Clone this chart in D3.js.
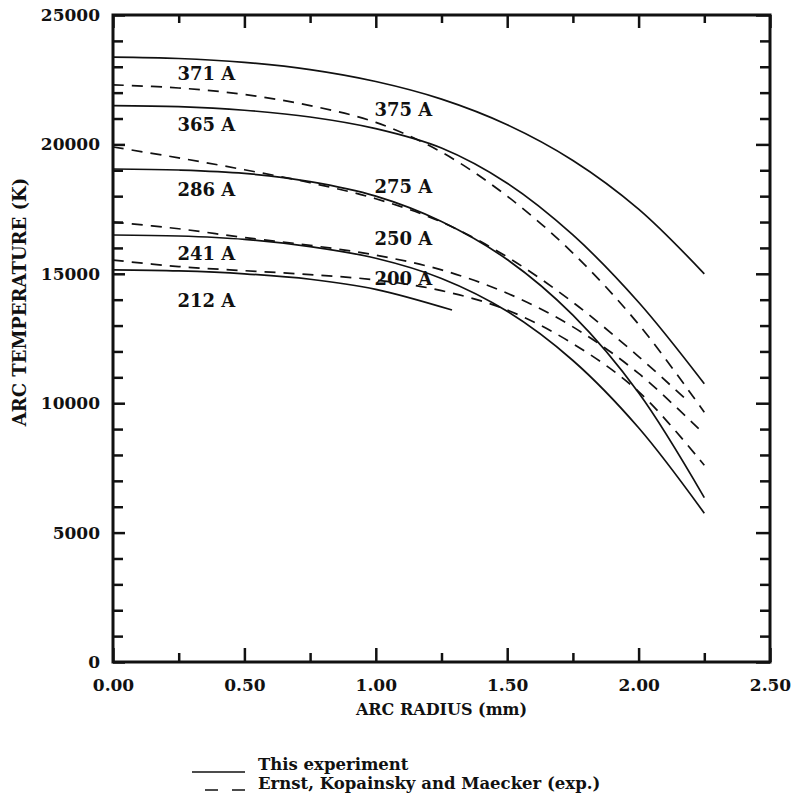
<!DOCTYPE html>
<html>
<head>
<meta charset="utf-8">
<script src="https://cdn.jsdelivr.net/npm/d3@7"></script>
<style>
  body { margin: 0; background: #fff; }
  svg text { font-family: "DejaVu Serif", "Liberation Serif", serif; font-weight: bold; fill: #111; }
</style>
</head>
<body>
<svg id="chart" width="795" height="800"></svg>
<script>
// data: [radius mm, temperature K]
const exp371 = [[0,23370],[0.25,23320],[0.5,23170],[0.75,22890],[1.0,22430],[1.25,21750],[1.5,20760],[1.75,19380],[2.0,17500],[2.25,15000]];
const exp365 = [[0,21500],[0.25,21460],[0.5,21320],[0.75,21060],[1.0,20610],[1.25,19860],[1.5,18500],[1.75,16500],[2.0,13900],[2.25,10750]];
const exp286 = [[0,19050],[0.25,19010],[0.5,18880],[0.75,18560],[1.0,18000],[1.25,17020],[1.5,15550],[1.75,13400],[2.0,10400],[2.25,6350]];
const exp241 = [[0,16500],[0.25,16460],[0.5,16330],[0.75,16050],[1.0,15600],[1.25,14820],[1.5,13550],[1.75,11650],[2.0,9050],[2.25,5750]];
const exp212 = [[0,15150],[0.25,15110],[0.5,15000],[0.75,14790],[1.0,14400],[1.29,13600]];

const ekm375 = [[0,22300],[0.25,22180],[0.5,21930],[0.75,21500],[1.0,20850],[1.25,19700],[1.5,18000],[1.75,15800],[2.0,13050],[2.25,9650]];
const ekm275 = [[0,19900],[0.25,19480],[0.5,19020],[0.75,18520],[1.0,17900],[1.25,17000],[1.5,15650],[1.75,13900],[2.0,11800],[2.18,10150]];
const ekm250 = [[0,17000],[0.25,16740],[0.5,16400],[0.75,16100],[1.0,15720],[1.25,15150],[1.5,14250],[1.75,12950],[2.0,11150],[2.25,8800]];
const ekm200 = [[0,15530],[0.25,15280],[0.5,15120],[0.75,14970],[1.0,14760],[1.25,14350],[1.5,13600],[1.75,12300],[2.0,10450],[2.25,7600]];

const solidSeries = [exp371, exp365, exp286, exp241, exp212];
const dashedSeries = [ekm375, ekm275, ekm250, ekm200];

const leftLabels = ["371 A", "365 A", "286 A", "241 A", "212 A"];
const leftLabelT = [22490, 20520, 18000, 15530, 13720];
const rightLabels = ["375 A", "275 A", "250 A", "200 A"];
const rightLabelT = [21100, 18130, 16130, 14570];

const xTicks = [0, 0.5, 1.0, 1.5, 2.0, 2.5];
const xMinor = [0.25, 0.75, 1.25, 1.75, 2.25];
const yTicks = [0, 5000, 10000, 15000, 20000, 25000];
const yMinor = d3.range(1000, 25000, 1000).filter(v => v % 5000 !== 0);

const legendItems = ["This experiment", "Ernst, Kopainsky and Maecker (exp.)"];

const svg = d3.select("#chart");
const margin = {top: 15, right: 25, bottom: 138, left: 113};
const width = 795 - margin.left - margin.right;
const height = 800 - margin.top - margin.bottom;
const g = svg.append("g").attr("transform", "translate(" + margin.left + "," + margin.top + ")");

const x = d3.scaleLinear().domain([0, 2.5]).range([0, width]);
const y = d3.scaleLinear().domain([0, 25000]).range([height, 0]);

function styleAxis(sel) {
  sel.select(".domain").remove();
  sel.selectAll(".tick line").attr("stroke", "#111").attr("stroke-width", 2.5);
  sel.selectAll(".tick text").style("font-size", "17px").attr("fill", "#111");
}

// bottom
g.append("g").attr("transform", "translate(0," + height + ")")
  .call(d3.axisBottom(x).tickValues(xTicks).tickSize(-14).tickPadding(17).tickFormat(d3.format(".2f")))
  .call(styleAxis);
g.append("g").attr("transform", "translate(0," + height + ")")
  .call(d3.axisBottom(x).tickValues(xMinor).tickSize(-9).tickFormat(""))
  .call(styleAxis);
// top
g.append("g")
  .call(d3.axisTop(x).tickValues(xTicks).tickSize(-13).tickFormat(""))
  .call(styleAxis);
g.append("g")
  .call(d3.axisTop(x).tickValues(xMinor).tickSize(-8).tickFormat(""))
  .call(styleAxis);
// left
g.append("g")
  .call(d3.axisLeft(y).tickValues(yTicks).tickSize(-12).tickPadding(13).tickFormat(d3.format("d")))
  .call(styleAxis);
g.append("g")
  .call(d3.axisLeft(y).tickValues(yMinor).tickSize(-10).tickFormat(""))
  .call(styleAxis);
// right
g.append("g").attr("transform", "translate(" + width + ",0)")
  .call(d3.axisRight(y).tickValues(yTicks).tickSize(-14).tickFormat(""))
  .call(styleAxis);
g.append("g").attr("transform", "translate(" + width + ",0)")
  .call(d3.axisRight(y).tickValues(yMinor).tickSize(-10).tickFormat(""))
  .call(styleAxis);

// frame
g.append("rect").attr("width", width).attr("height", height)
  .attr("fill", "none").attr("stroke", "#111").attr("stroke-width", 3);

const line = d3.line().x(d => x(d[0])).y(d => y(d[1])).curve(d3.curveCatmullRom);

g.selectAll(".solid").data(solidSeries).enter().append("path")
  .attr("class", "solid")
  .attr("d", line)
  .attr("fill", "none").attr("stroke", "#111").attr("stroke-width", 1.7);

g.selectAll(".dashed").data(dashedSeries).enter().append("path")
  .attr("class", "dashed")
  .attr("d", line)
  .attr("fill", "none").attr("stroke", "#111").attr("stroke-width", 1.7)
  .attr("stroke-dasharray", "11,8");

// curve labels
g.selectAll(".lab-l").data(leftLabels).enter().append("text")
  .attr("x", x(0.245))
  .attr("y", (d, i) => y(leftLabelT[i]))
  .style("font-size", "18px")
  .text(d => d);
g.selectAll(".lab-r").data(rightLabels).enter().append("text")
  .attr("x", x(0.995))
  .attr("y", (d, i) => y(rightLabelT[i]))
  .style("font-size", "18px")
  .text(d => d);

// axis titles
g.append("text")
  .attr("x", x(1.25)).attr("y", height + 53)
  .attr("text-anchor", "middle")
  .style("font-size", "16px")
  .text("ARC RADIUS (mm)");
svg.append("text")
  .attr("transform", "translate(26,302) rotate(-90)")
  .attr("text-anchor", "middle")
  .style("font-size", "18px")
  .text("ARC TEMPERATURE (K)");

// legend
const leg = svg.append("g").attr("transform", "translate(192,770)");
leg.append("line").attr("x1", 0).attr("x2", 53).attr("y1", 2).attr("y2", 2)
  .attr("stroke", "#111").attr("stroke-width", 1.7);
leg.append("line").attr("x1", 13).attr("x2", 53).attr("y1", 20).attr("y2", 20)
  .attr("stroke", "#111").attr("stroke-width", 1.7).attr("stroke-dasharray", "13,14");
leg.selectAll("text").data(legendItems).enter().append("text")
  .attr("x", 66).attr("y", (d, i) => i * 19)
  .style("font-size", "16.5px")
  .text(d => d);
</script>
</body>
</html>
